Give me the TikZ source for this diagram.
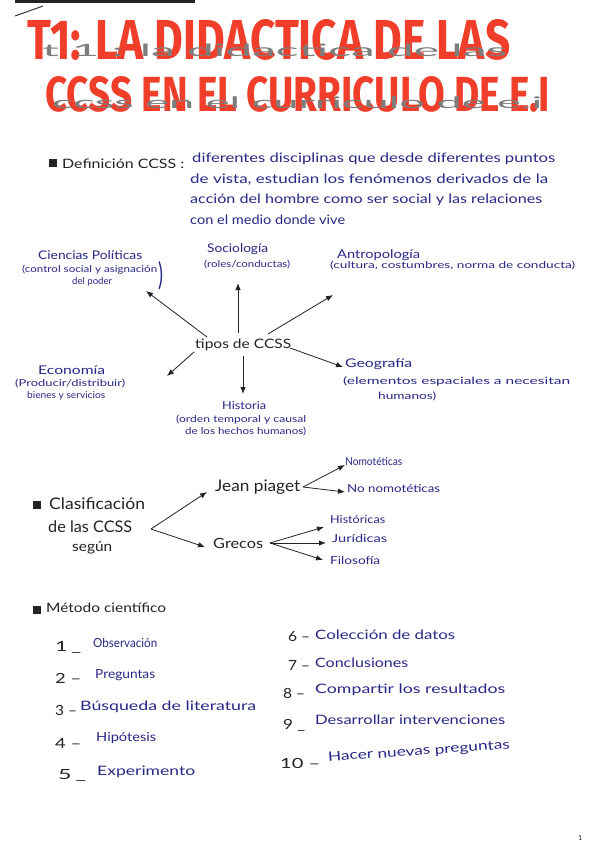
\documentclass[tikz,border=0pt]{standalone}
\usepackage{fontspec}
\setmainfont{Lato}
\newfontfamily\titlefont{Fira Sans}
\usetikzlibrary{arrows.meta}
\definecolor{inkblue}{RGB}{40,40,135}
\definecolor{inkblack}{RGB}{35,35,35}
\definecolor{inkred}{RGB}{240,62,42}
\definecolor{pencil}{RGB}{125,125,125}
\newsavebox\tbox
% fit text to a width by horizontal scaling only: \fw{width}{size}{text}
\newcommand\fw[3]{\sbox\tbox{\fontsize{#2}{#2}\selectfont #3}\pgfmathsetmacro\fwr{#1/\the\wd\tbox}\scalebox{\fwr}[1]{\usebox\tbox}}
\tikzset{
  blk/.style={inner sep=0pt, anchor=west, text=inkblack},
  blu/.style={inner sep=0pt, anchor=west, text=inkblue},
  ttl/.style={inner sep=0pt, anchor=west, text=inkred},
  pen/.style={inner sep=0pt, anchor=west, text=pencil},
  arr/.style={-{Latex[length=7pt,width=5.5pt]}, line width=0.8pt, draw=inkblack},
  bul/.style={fill=inkblack, minimum size=8.5pt, inner sep=0pt, anchor=center}
}
\begin{document}
\begin{tikzpicture}[x=1pt,y=-1pt]
\useasboundingbox[fill=white] (0,0) rectangle (599,848);
% top marks
\fill[inkblack] (15,0) rectangle (195,3.5);
\draw[inkblack, line width=0.9pt] (15,16) -- (43,6);
% title
\node[ttl] (t1) at (27,40) {\resizebox{483pt}{40pt}{\titlefont\bfseries T1: LA DIDACTICA DE LAS}};
\node[ttl] (t2) at (45,94) {\resizebox{505pt}{35pt}{\titlefont\bfseries CCSS EN EL CURRICULO DE E.I}};
\node[pen] (p1) at (42,50) {\fw{465}{17}{t 1 : la didactica de las}};
\node[pen] (p2) at (52,103) {\fw{490}{16}{ccss en el curriculo de e.i}};
% definition
\node[bul] (b1) at (53,163) {};
\node[blk] (def) at (62,164) {\fw{122}{13}{Definición CCSS :}};
\node[blu] (d1) at (192,159) {\fw{363}{13}{diferentes disciplinas que desde diferentes puntos}};
\node[blu] (d2) at (190,180) {\fw{358}{13}{de vista, estudian los fenómenos derivados de la}};
\node[blu] (d3) at (190,200) {\fw{352}{13}{acción del hombre como ser social y las relaciones}};
\node[blu] (d4) at (190,220) {\fw{155}{13}{con el medio donde vive}};
% tipos de CCSS
\node[blk] (tipos) at (195,345) {\fw{96}{13}{tipos de CCSS}};
\node[blu] (pol) at (38,255) {\fw{104}{12}{Ciencias Políticas}};
\node[blu] (pol2) at (22,270) {\fw{135}{9.5}{(control social y asignación}};
\node[blu] (pol3) at (72,282) {\fw{40}{9.5}{del poder}};
\node[blu] (pol4) at (158,276) {\resizebox{5pt}{24pt}{)}};
\node[blu] (soc) at (207,249) {\fw{61}{12}{Sociología}};
\node[blu] (soc2) at (204,265) {\fw{86}{9.5}{(roles/conductas)}};
\node[blu] (ant) at (337,255) {\fw{83}{12}{Antropología}};
\node[blu] (ant2) at (330,266) {\fw{245}{9.5}{(cultura, costumbres, norma de conducta)}};
\node[blu] (eco) at (38,370) {\fw{67}{12}{Economía}};
\node[blu] (eco2) at (15,384) {\fw{110}{9.5}{(Producir/distribuir)}};
\node[blu] (eco3) at (27,396) {\fw{78}{9.5}{bienes y servicios}};
\node[blu] (geo) at (345,364) {\fw{67}{12}{Geografía}};
\node[blu] (geo2) at (343,381) {\fw{227}{10}{(elementos espaciales a necesitan}};
\node[blu] (geo3) at (378,396) {\fw{58}{10}{humanos)}};
\node[blu] (his) at (222,406) {\fw{44}{11}{Historia}};
\node[blu] (his2) at (176,420) {\fw{130}{9.5}{(orden temporal y causal}};
\node[blu] (his3) at (185,432) {\fw{121}{9.5}{de los hechos humanos)}};
\coordinate (sPol) at (207,337); \coordinate (ePol) at (146,291);
\coordinate (sSoc) at (238,333); \coordinate (eSoc) at (238,283);
\coordinate (sAnt) at (268,334); \coordinate (eAnt) at (333,295);
\coordinate (sEco) at (194,352); \coordinate (eEco) at (167,376);
\coordinate (sGeo) at (290,348); \coordinate (eGeo) at (343,367);
\coordinate (sHis) at (243,356); \coordinate (eHis) at (243,394);
\draw[arr] (sPol) -- (ePol);
\draw[arr] (sSoc) -- (eSoc);
\draw[arr] (sAnt) -- (eAnt);
\draw[arr] (sEco) -- (eEco);
\draw[arr] (sGeo) -- (eGeo);
\draw[arr] (sHis) -- (eHis);
% clasificacion
\node[bul] (b2) at (37,505) {};
\node[blk] (cla1) at (49,504) {\fw{96}{16}{Clasificación}};
\node[blk] (cla2) at (48,527) {\fw{84}{16}{de las CCSS}};
\node[blk] (cla3) at (72,548) {\fw{40}{14}{según}};
\node[blk] (jean) at (215,487) {\fw{85}{16}{Jean piaget}};
\node[blk] (gre) at (213,543) {\fw{50}{14}{Grecos}};
\node[blu] (nom) at (345,462) {\fw{57}{11}{Nomotéticas}};
\node[blu] (nnom) at (347,489) {\fw{93}{11}{No nomotéticas}};
\node[blu] (hst) at (330,520) {\fw{55}{11}{Históricas}};
\node[blu] (jur) at (332,538) {\fw{55}{11}{Jurídicas}};
\node[blu] (fil) at (330,560) {\fw{50}{11}{Filosofía}};
\coordinate (fk1) at (151,529);
\coordinate (eJean) at (207,492); \coordinate (eGre) at (205,547);
\coordinate (fk2) at (303,487);
\coordinate (eNom) at (345,465); \coordinate (eNnom) at (345,492);
\coordinate (fk3) at (270,543);
\coordinate (eHst) at (324,527); \coordinate (eJur) at (326,543); \coordinate (eFil) at (323,560);
\draw[arr] (fk1) -- (eJean);
\draw[arr] (fk1) -- (eGre);
\draw[arr] (fk2) -- (eNom);
\draw[arr] (fk2) -- (eNnom);
\draw[arr] (fk3) -- (eHst);
\draw[arr] (fk3) -- (eJur);
\draw[arr] (fk3) -- (eFil);
% metodo cientifico
\node[bul] (b3) at (37,610) {};
\node[blk] (met) at (46,608) {\fw{120}{13}{Método científico}};
\node[blk] (n1) at (55,647) {\fw{26}{14}{1\,\_}};
\node[blu] (m1) at (93,643) {\fw{64}{12.5}{Observación}};
\node[blk] (n2) at (55,678) {\fw{26}{14}{2 –}};
\node[blu] (m2) at (95,675) {\fw{60}{12.5}{Preguntas}};
\node[blk] (n3) at (55,710) {\fw{22}{14}{3 –}};
\node[blu] (m3) at (80,707) {\fw{176}{13}{Búsqueda de literatura}};
\node[blk] (n4) at (55,743) {\fw{26}{14}{4 –}};
\node[blu] (m4) at (96,738) {\fw{60}{12.5}{Hipótesis}};
\node[blk] (n5) at (58,775) {\fw{28}{14}{5\,\_}};
\node[blu] (m5) at (97,772) {\fw{98}{13}{Experimento}};
\node[blk] (n6) at (288,637) {\fw{22}{14}{6 –}};
\node[blu] (m6) at (315,635) {\fw{140}{13}{Colección de datos}};
\node[blk] (n7) at (288,665) {\fw{22}{14}{7 –}};
\node[blu] (m7) at (315,663) {\fw{93}{13}{Conclusiones}};
\node[blk] (n8) at (283,693) {\fw{22}{14}{8 –}};
\node[blu] (m8) at (315,690) {\fw{190}{13}{Compartir los resultados}};
\node[blk] (n9) at (283,725) {\fw{22}{14}{9 \_}};
\node[blu] (m9) at (315,720) {\fw{190}{13}{Desarrollar intervenciones}};
\node[blk] (n10) at (280,763) {\fw{40}{14}{10 –}};
\node[blu, rotate=4] (m10) at (328,758) {\fw{182}{13}{Hacer nuevas preguntas}};
% page mark
\node[blk] (pg) at (578,838) {\fontsize{7}{8}\selectfont 1};
\end{tikzpicture}
\end{document}
